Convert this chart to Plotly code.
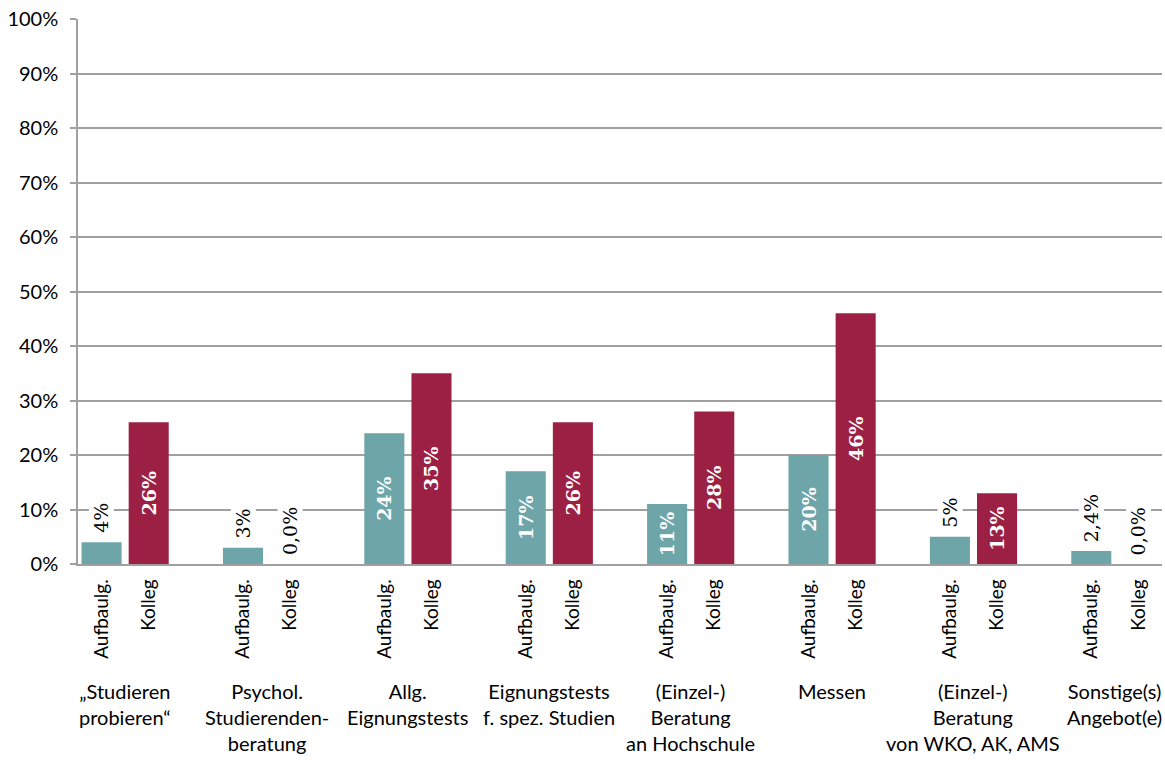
import plotly.graph_objects as go

categories = ["„Studieren<br>probieren“", "Psychol.<br>Studierenden-<br>beratung", "Allg.<br>Eignungstests",
              "Eignungstests<br>f. spez. Studien", "(Einzel-)<br>Beratung<br>an Hochschule", "Messen",
              "(Einzel-)<br>Beratung<br>von WKO, AK, AMS", "Sonstige(s)<br>Angebot(e)"]
series_names = ["Aufbaulg.", "Kolleg"]
aufbaulg = [4, 3, 24, 17, 11, 20, 5, 2.4]
kolleg = [26, 0, 35, 26, 28, 46, 13, 0]
aufbaulg_labels = ["4%", "3%", "24%", "17%", "11%", "20%", "5%", "2,4%"]
kolleg_labels = ["26%", "0,0%", "35%", "26%", "28%", "46%", "13%", "0,0%"]
y_ticks = [0, 10, 20, 30, 40, 50, 60, 70, 80, 90, 100]

TEAL = "#6da5a8"
CRIMSON = "#9c2043"
SANS = "Lato"
SERIF = "DejaVu Serif"
INSIDE_MIN = 10

n = len(categories)
x_auf = [3 * i for i in range(n)]
x_kol = [3 * i + 1 for i in range(n)]

fig = go.Figure()

def add_series(xs, vals, labels, color, name):
    inside_text = [lab if v >= INSIDE_MIN else "" for v, lab in zip(vals, labels)]
    fig.add_trace(go.Bar(
        x=xs, y=vals, name=name, width=0.85,
        marker=dict(color=color, line=dict(width=0)),
        text=inside_text, textposition="inside", insidetextanchor="middle",
        textangle=-90, constraintext="none",
        insidetextfont=dict(family=SERIF, size=19, color="white", weight="bold"),
        hoverinfo="skip", showlegend=False,
    ))
    for x, v, lab in zip(xs, vals, labels):
        if v < INSIDE_MIN:
            fig.add_annotation(
                x=x, y=v, xref="x", yref="y", text=lab, showarrow=False,
                textangle=-90, yanchor="bottom", xanchor="center", yshift=7,
                bgcolor="white", borderpad=1,
                font=dict(family=SERIF, size=19, color="black"),
            )

add_series(x_auf, aufbaulg, aufbaulg_labels, TEAL, series_names[0])
add_series(x_kol, kolleg, kolleg_labels, CRIMSON, series_names[1])

tickvals = x_auf + x_kol
ticktext = [series_names[0]] * n + [series_names[1]] * n

for i, cat in enumerate(categories):
    fig.add_annotation(
        x=3 * i + 0.5, y=0, xref="x", yref="paper", text=cat, showarrow=False,
        yanchor="top", xanchor="center", yshift=-113, align="center",
        font=dict(family=SANS, size=20, color="black"),
    )

fig.update_layout(
    width=1165, height=760,
    margin=dict(l=78, r=3, t=19, b=196),
    paper_bgcolor="white", plot_bgcolor="white",
    bargap=0.15,
    xaxis=dict(
        range=[-0.5, 3 * n - 1.5], tickvals=tickvals, ticktext=ticktext,
        tickangle=-90, ticks="", ticklabelstandoff=6,
        tickfont=dict(family=SANS, size=19, color="black"),
        showgrid=False, zeroline=False, showline=True, linecolor="#a0a0a0", linewidth=1.5,
    ),
    yaxis=dict(
        range=[0, 100], tickvals=y_ticks, ticktext=[f"{t}%" for t in y_ticks],
        ticks="outside", ticklen=6, tickcolor="#a0a0a0", tickwidth=1.5,
        ticklabelstandoff=8,
        tickfont=dict(family=SANS, size=20, color="black"),
        showgrid=True, gridcolor="#a0a0a0", gridwidth=1.5,
        zeroline=False, showline=True, linecolor="#a0a0a0", linewidth=1.5,
    ),
)

fig.write_html("out.html", config={"displayModeBar": False},
               post_script="document.body.style.margin='0';")
